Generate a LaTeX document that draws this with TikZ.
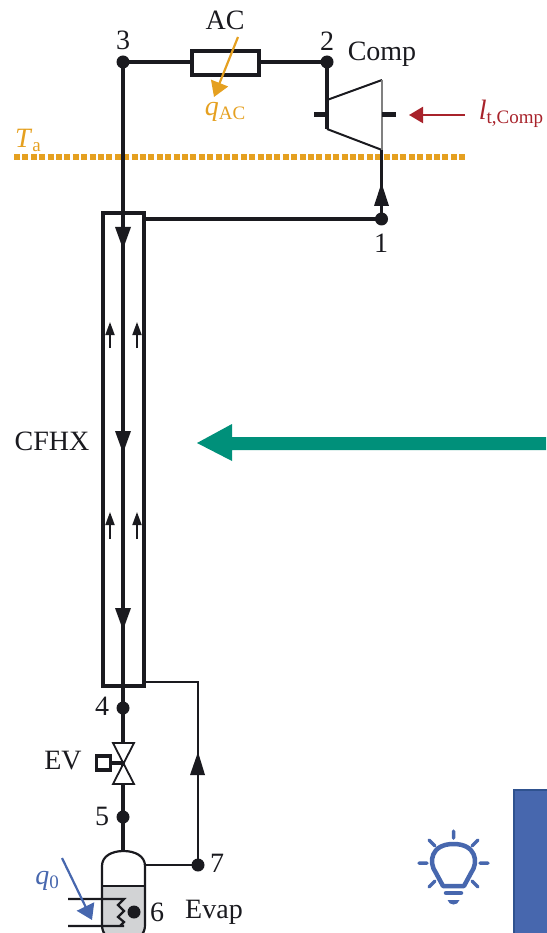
\documentclass[tikz,border=0pt]{standalone}
\usepackage{fontspec}
\setmainfont{Liberation Serif}
\usetikzlibrary{arrows.meta,calc}
\definecolor{ink}{HTML}{1A1A1F}
\definecolor{amber}{HTML}{E5A020}
\definecolor{wine}{HTML}{A8232B}
\definecolor{steel}{HTML}{4767AE}
\definecolor{steeldark}{HTML}{2F528F}
\definecolor{teal}{HTML}{00907A}
\definecolor{liquid}{HTML}{D2D3D5}
\tikzset{
  x=1pt,y=-1pt,
  pt/.style={circle,fill=ink,draw=none,inner sep=0pt,outer sep=-1pt,minimum size=13pt},
  lab/.style={inner sep=0pt,text=ink,font=\fontsize{28}{30}\selectfont},
  pipe/.style={draw=ink,line width=3.2pt},
  thin pipe/.style={draw=ink,line width=2.2pt},
  smallflow/.style={draw=ink,line width=1.8pt,-{Triangle[length=13pt,width=9pt]}},
  box/.style={draw=ink,line width=3.2pt,fill=white,inner sep=0pt,outer sep=0pt},
}
\begin{document}
\begin{tikzpicture}
\useasboundingbox (0,0) rectangle (546,933);
% points
\node[pt] (p3) at (123,62) {};
\node[pt] (p2) at (327,62) {};
\node[pt] (p1) at (381.5,219) {};
\node[pt] (p4) at (123,708) {};
\node[pt] (p5) at (123,817) {};
\node[pt] (p7) at (198,865) {};
\coordinate (hxT) at (145,219);
\coordinate (hxB) at (145,682);
\coordinate (hxRT) at (198,682);
\coordinate (evN) at (123,851);
\coordinate (evE) at (145,865);
\coordinate (compIn) at (381.5,150);
\coordinate (compOut) at (327,100);
% evaporator
\fill[liquid] (102,886) -- (145,886) -- (145,933) -- (102,933) -- cycle;
\draw[thin pipe] (106,936) .. controls (103,932) and (102,929) .. (102,925) -- (102,866) .. controls (102,856) and (112,851) .. (123.5,851) .. controls (135,851) and (145,856) .. (145,866) -- (145,925) .. controls (145,929) and (144,932) .. (141,936);
\draw[thin pipe] (102,886) -- (145,886);
\draw[thin pipe] (68,899) -- (124,899) -- (118,905) -- (124,911) -- (118,917) -- (124,922) -- (120,926) (68,926) -- (124,926);
% HX box
\node[box,fill=none,minimum width=41pt,minimum height=473pt] (cfhx) at (123.5,449.5) {};
% pipes
\draw[pipe] (p3) -- (p2);
\node[box,minimum width=67pt,minimum height=24pt] (ac) at (225.5,63) {};
\draw[pipe] (p3) -- (p4);
\draw[pipe] (p4) -- (p5);
\draw[pipe] (p5) -- (evN);
\draw[pipe] (p2) -- (compOut);
\draw[pipe] (hxT) -- (p1);
\draw[pipe] (p1) -- (compIn);
\draw[thin pipe] (hxB) -- (hxRT) -- (p7);
\draw[thin pipe] (evE) -- (p7);
% flow arrowheads
\fill[ink] (115,227) -- (131,227) -- (123,249) -- cycle;
\fill[ink] (115,431) -- (131,431) -- (123,453) -- cycle;
\fill[ink] (115,608) -- (131,608) -- (123,630) -- cycle;
\fill[ink] (381.5,183) -- (374,206) -- (389,206) -- cycle;
\fill[ink] (198,752) -- (190,775) -- (205,775) -- cycle;
% small arrows
\coordinate (sa1) at (110,348); \coordinate (sa1t) at (110,322);
\coordinate (sa2) at (137,348); \coordinate (sa2t) at (137,322);
\coordinate (sa3) at (110,539); \coordinate (sa3t) at (110,512);
\coordinate (sa4) at (137,539); \coordinate (sa4t) at (137,512);
\draw[smallflow] (sa1) -- (sa1t);
\draw[smallflow] (sa2) -- (sa2t);
\draw[smallflow] (sa3) -- (sa3t);
\draw[smallflow] (sa4) -- (sa4t);
% compressor
\draw[draw=ink,line width=2pt] (327,100) -- (382,80);
\draw[draw=ink,line width=2pt] (327,129) -- (382,150);
\draw[draw=gray,line width=2pt] (382,80) -- (382,150);
\draw[pipe] (327,100) -- (327,129);
\draw[draw=ink,line width=5pt] (314,115) -- (327,115) (382,115) -- (396,115);
% valve
\draw[draw=ink,line width=1.8pt,fill=white] (113,743) -- (134,743) -- (113,784) -- (134,784) -- cycle;
\node[box,minimum width=14pt,minimum height=14pt] (evbox) at (103.5,763) {};
\draw[pipe] (evbox) -- (123,763);
% ambient
\draw[draw=amber,line width=6pt,dash pattern=on 6pt off 2.4pt] (14,157) -- (465,157);
\draw[draw=ink,line width=3.2pt] (123,150) -- (123,165);
\draw[draw=ink,line width=3.2pt] (381.5,150) -- (381.5,165);
% heat arrows
\coordinate (qacS) at (238,37); \coordinate (qacE) at (214,97);
\draw[draw=amber,line width=2.2pt,-{Triangle[length=15pt,width=18pt]}] (qacS) -- (qacE);
\coordinate (ltS) at (465,115); \coordinate (ltE) at (409,115);
\draw[draw=wine,line width=2.2pt,-{Triangle[length=14pt,width=16pt]}] (ltS) -- (ltE);
\coordinate (q0S) at (62,858); \coordinate (q0E) at (92,920);
\draw[draw=steel,line width=2.2pt,-{Triangle[length=15pt,width=19pt]}] (q0S) -- (q0E);
% dot 6
\node[pt] (p6) at (134,912) {};
% labels
\node[lab] (lac) at (225,20) {AC};
\node[lab] (l3) at (123,40) {3};
\node[lab] (l2) at (327,41) {2};
\node[lab] (lcomp) at (382,54) {Comp};
\node[lab] (l1) at (381,243) {1};
\node[lab] (lcf) at (52,441) {CFHX};
\node[lab] (l4) at (102,706) {4};
\node[lab] (lev) at (63,761) {EV};
\node[lab] (l5) at (102,816) {5};
\node[lab] (l7) at (217,863) {7};
\node[lab] (l6) at (157,912) {6};
\node[lab] (levap) at (214,912) {Evap};
\node[lab,text=amber] (lqac) at (225,112) {\textit{q}\raisebox{-4pt}{\fontsize{19}{20}\selectfont AC}};
\node[lab,text=amber] (lta) at (28,140) {\textit{T}\raisebox{-4pt}{\fontsize{19}{20}\selectfont a}};
\node[lab,text=wine] (llt) at (511,114) {\textit{l}\raisebox{-4pt}{\fontsize{19}{20}\selectfont t,Comp}};
\node[lab,text=steel] (lq0) at (47,881) {\textit{q}\raisebox{-4pt}{\fontsize{19}{20}\selectfont 0}};
% big green arrow
\fill[teal] (197,443) -- (232,424) -- (232,437) -- (546,437) -- (546,450) -- (232,450) -- (232,461) -- cycle;
% blue box
\draw[draw=steeldark,line width=2.5pt,fill=steel] (514,790) rectangle (560,950);
% bulb
\begin{scope}[draw=steel,line cap=round]
\draw[line width=4.5pt,line join=round] (443,886) -- (436,873) .. controls (428,862) and (431,844) .. (453.5,844) .. controls (476,844) and (479,862) .. (471,873) -- (464,886) -- cycle;
\draw[line width=3.5pt] (453.5,831) -- (453.5,838) (429,840) -- (435,846) (478,840) -- (472,846) (419,863) -- (427,863) (480,863) -- (488,863) (429,887) -- (435,881) (478,887) -- (472,881);
\draw[line width=4.5pt] (446,893) -- (461,893);
\end{scope}
\fill[steel] (447.5,900) -- (459.5,900) .. controls (458,906) and (449,906) .. (447.5,900) -- cycle;
\end{tikzpicture}
\end{document}
